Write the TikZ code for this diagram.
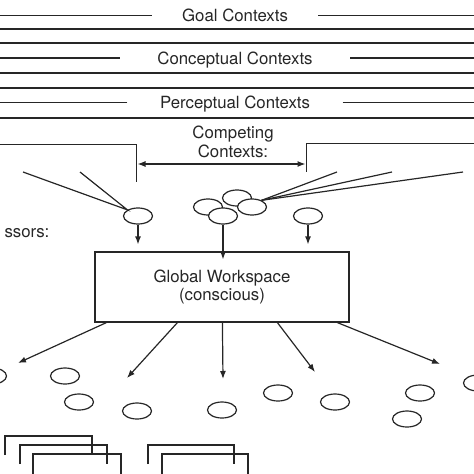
\documentclass[tikz,border=0pt]{standalone}
\usepackage{fontspec}
\setmainfont{TeX Gyre Heros}
\usetikzlibrary{shapes.geometric,arrows.meta}

\tikzset{
  txt/.style={font=\fontsize{16.8}{18.5}\selectfont, inner sep=0pt},
  oneline/.style={text height=12pt, text depth=0pt},
  blob/.style={draw, ellipse, fill=white, minimum width=29pt, minimum height=16pt, inner sep=0pt},
}

\begin{document}
\begin{tikzpicture}[x=1pt, y=-1pt, line width=1.2pt, color=black!85, >={Latex[length=8pt,width=6pt]}]
	\useasboundingbox (0,0) rectangle (474,474);
	\clip (0,0) rectangle (474,474);

	% context levels
	\node[txt, oneline, inner xsep=30pt] (goal) at (235,15.5) {Goal Contexts};
	\node[txt, oneline, inner xsep=37pt] (concept) at (235,58) {Conceptual Contexts};
	\node[txt, oneline, inner xsep=32pt] (percept) at (235,102.5) {Perceptual Contexts};
	\foreach \n in {goal,concept,percept} {
		\draw (\n.west) -- ++(-250,0);
		\draw (\n.east) -- ++(250,0);
	}
	\foreach \y in {29,43,73,88,118} \draw (0,\y) -- (474,\y);

	% competing contexts
	\node[txt, align=center] (comp) at (233,142) {Competing\\Contexts:};
	\coordinate (cl) at (136.5,164);
	\coordinate (cr) at (306.5,164);
	\draw (0,144.5) -| (136.5,181.5);
	\draw (476,143.5) -| (306.5,171.5);
	\draw[<->, shorten <=1pt, shorten >=1pt] (cl) -- (cr);

	% processors
	\node[blob] (p1) at (138,216) {};
	\node[blob] (c1) at (208,207) {};
	\node[blob] (c2) at (237,198) {};
	\node[blob] (c3) at (223,216) {};
	\node[blob] (c4) at (252,207) {};
	\node[blob] (p2) at (308,216) {};
	\node[txt, oneline, anchor=east] (proc) at (50,231) {ssors:};

	\coordinate (l1) at (23,172);
	\coordinate (l2) at (80,172);
	\draw (l1) -- (p1.150) -- (l2);
	\foreach \i/\x in {1/337,2/392,3/463} {
		\coordinate (r\i) at (\x,172);
		\draw (c4.35) -- (r\i);
	}

	% global workspace
	\node[txt, draw, align=center, minimum width=254pt, minimum height=70pt] (ws) at (222,287) {Global Workspace\\(conscious)};
	\draw[->, shorten >=7pt] (p1) -- (p1 |- ws.north);
	\draw[->, shorten >=-8pt] (c3) -- (c3 |- ws.north);
	\draw[->, shorten >=7pt] (p2) -- (p2 |- ws.north);

	\foreach \i/\dx/\x/\y in {1/12/18/363, 2/83/127/378, 3/128/223/379, 4/183/315/372, 5/243/440/364} {
		\coordinate (o\i) at (\x,\y);
		\draw[->] ([xshift=\dx pt]ws.south west) -- (o\i);
	}

	% unconscious processors
	\foreach \i/\x/\y in {1/-8/376, 2/65/376, 3/79/402, 4/137/411, 5/222/410, 6/278/393, 7/335/402, 8/420/393, 9/407/419, 10/478/383}
		\node[blob] (u\i) at (\x,\y) {};

	% brackets
	\foreach \l/\r/\t/\b in {5/92/436/455, 20/107/445/464, 33/121/454/476, 148/234/445/464, 162/248/454/476}
		\draw (\l,\b) |- (\r,\t) -- (\r,\b);
\end{tikzpicture}
\end{document}
